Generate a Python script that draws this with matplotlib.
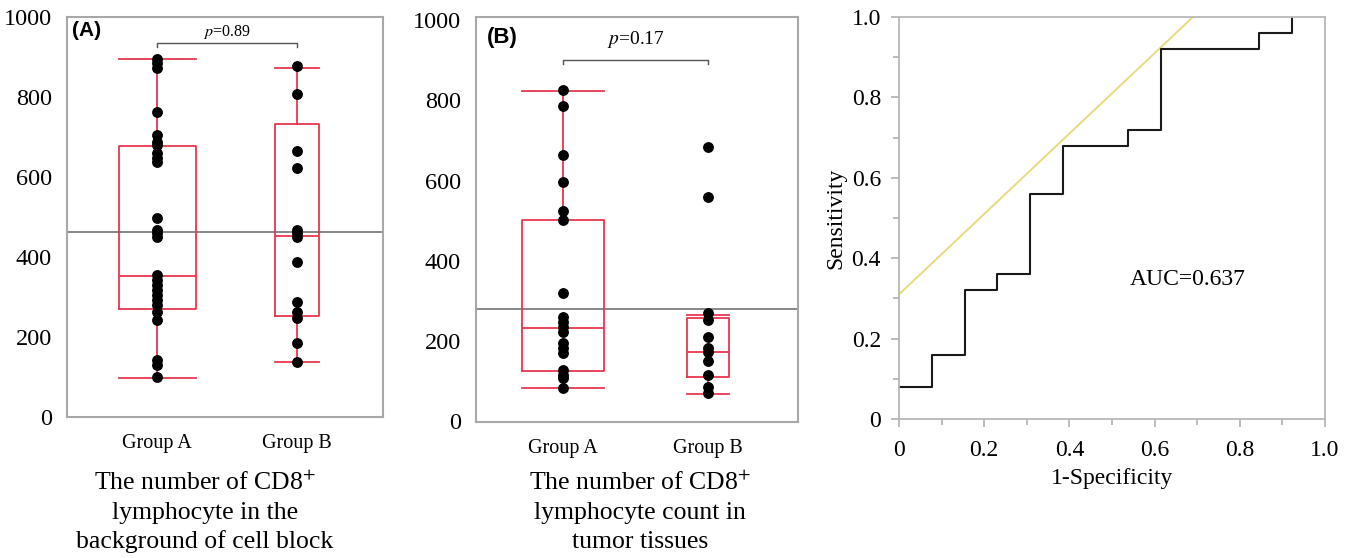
import numpy as np
import matplotlib
matplotlib.use("Agg")
import matplotlib.pyplot as plt

plt.rcParams['font.family'] = ['Liberation Serif', 'DejaVu Serif']
plt.rcParams['mathtext.fontset'] = 'stix'

# ---------- data ----------
groups = ["Group A", "Group B"]

# (A) CD8+ lymphocytes in cell block background
a_group_a = [895, 885, 873, 762, 705, 688, 680, 660, 648, 638, 497, 467, 460, 450,
             355, 342, 330, 318, 305, 293, 280, 263, 243, 143, 130, 100]
a_group_b = [878, 808, 665, 623, 467, 460, 450, 388, 288, 263, 248, 185, 138]
a_q1 = [270, 253]
a_med = [353, 453]
a_q3 = [678, 732]
a_lo = [98, 137]
a_hi = [895, 873]
a_cutoff = 462

# (B) CD8+ lymphocytes in tumor tissues
b_group_a = [825, 786, 663, 596, 524, 501, 319, 259, 247, 234, 222, 194, 182, 170,
             127, 115, 107, 82]
b_group_b = [683, 559, 269, 252, 209, 182, 172, 150, 115, 85, 70]
b_q1 = [125, 110]
b_med = [232, 172]
b_q3 = [501, 257]
b_lo = [82, 67]
b_hi = [823, 264]
b_cutoff = 279

# ROC
fpr = [0, 0.077, 0.077, 0.154, 0.154, 0.231, 0.231, 0.308, 0.308, 0.385, 0.385,
       0.538, 0.538, 0.615, 0.615, 0.846, 0.846, 0.923, 0.923]
tpr = [0.08, 0.08, 0.16, 0.16, 0.32, 0.32, 0.36, 0.36, 0.56, 0.56, 0.68, 0.68,
       0.72, 0.72, 0.92, 0.92, 0.96, 0.96, 1.0]
ref_x = [0, 0.69]
ref_y = [0.31, 1.0]

RED = '#e8364e'
W, H = 1354, 558
fig = plt.figure(figsize=(W / 100, H / 100), dpi=100)


def px_axes(x0, y0, x1, y1):
    return fig.add_axes([x0 / W, 1 - y1 / H, (x1 - x0) / W, (y1 - y0) / H])


def box_panel(ax, pts, q1, med, q3, lo, hi, widths, cutoff, xlim, ylim):
    stats = []
    for i in range(2):
        stats.append(dict(q1=q1[i], med=med[i], q3=q3[i], whislo=lo[i], whishi=hi[i],
                          fliers=[]))
    style = dict(color=RED, linewidth=1.3)
    ax.bxp(stats, positions=[1, 2], widths=widths, capwidths=widths,
           boxprops=style, medianprops=style, whiskerprops=style, capprops=style,
           showfliers=False, manage_ticks=False)
    ax.axhline(cutoff, color='#888888', lw=1.4, zorder=1)
    for i, p in enumerate(pts):
        ax.plot([i + 1] * len(p), p, 'o', color='black', ms=6.8, zorder=4)
    ax.set_xlim(*xlim)
    ax.set_ylim(*ylim)
    ax.set_xticks([1, 2])
    ax.set_xticklabels(groups, fontsize=14.5)
    ax.set_yticks([0, 200, 400, 600, 800, 1000])
    ax.tick_params(axis='y', length=0, labelsize=17.5, pad=11)
    ax.tick_params(axis='x', length=0, pad=12)
    for s in ax.spines.values():
        s.set_color('#a8a8a8')
        s.set_linewidth(1.5)


# ---------- panel A ----------
axA = px_axes(67, 17, 383, 417)
box_panel(axA, [a_group_a, a_group_b], a_q1, a_med, a_q3, a_lo, a_hi,
          [0.55, 0.32], a_cutoff, (0.357, 2.614), (0, 1000))
axA.text(0.016, 0.99, "(A)", transform=axA.transAxes, fontsize=15,
         fontweight='bold', family='Liberation Sans', va='top')
axA.plot([1, 1, 2, 2], [925, 935, 935, 925], color='#555555', lw=1)
axA.text(1.5, 940, "$p$=0.89", ha='center', va='bottom', fontsize=11.5)

# ---------- panel B ----------
axB = px_axes(476, 17, 798, 422)
box_panel(axB, [b_group_a, b_group_b], b_q1, b_med, b_q3, b_lo, b_hi,
          [0.56, 0.29], b_cutoff, (0.4, 2.62), (-2, 1008))
axB.text(0.035, 0.975, "(B)", transform=axB.transAxes, fontsize=16,
         fontweight='bold', family='Liberation Sans', va='top')
axB.plot([1, 1, 2, 2], [890, 900, 900, 890], color='#555555', lw=1)
axB.text(1.5, 925, "$p$=0.17", ha='center', va='bottom', fontsize=14)

# captions
cap = dict(ha='center', va='baseline', fontsize=18.5)
fig.text(205 / W, 1 - 490 / H, "The number of CD8$^{+}$", **cap)
fig.text(205 / W, 1 - 519 / H, "lymphocyte in the", **cap)
fig.text(205 / W, 1 - 548 / H, "background of cell block", **cap)
fig.text(640 / W, 1 - 490 / H, "The number of CD8$^{+}$", **cap)
fig.text(640 / W, 1 - 519 / H, "lymphocyte count in", **cap)
fig.text(640 / W, 1 - 548 / H, "tumor tissues", **cap)

# ---------- ROC ----------
axR = px_axes(899, 17, 1325, 419)
axR.plot(ref_x, ref_y, color='#e6dc7e', lw=1.4)
axR.plot(fpr, tpr, color='#1a1a1a', lw=1.5)
axR.set_xlim(0, 1)
axR.set_ylim(0, 1)
axR.set_xticks([0, 0.2, 0.4, 0.6, 0.8, 1.0])
axR.set_xticklabels(["0", "0.2", "0.4", "0.6", "0.8", "1.0"])
axR.set_yticks([0, 0.2, 0.4, 0.6, 0.8, 1.0])
axR.set_yticklabels(["0", "0.2", "0.4", "0.6", "0.8", "1.0"])
axR.set_xticks(np.arange(0.1, 1.0, 0.2), minor=True)
axR.set_yticks(np.arange(0.1, 1.0, 0.2), minor=True)
axR.tick_params(which='major', length=6, width=1.2, color='#b0b0b0', labelsize=17)
axR.tick_params(which='minor', length=4, width=1.2, color='#b0b0b0')
axR.tick_params(axis='y', pad=7)
axR.tick_params(axis='x', pad=9)
for s in axR.spines.values():
    s.set_color('#b8b8b8')
    s.set_linewidth(1.3)
axR.set_xlabel("1-Specificity", fontsize=17, labelpad=5)
axR.set_ylabel("Sensitivity", fontsize=17, labelpad=4)
axR.text(0.542, 0.347, "AUC=0.637", fontsize=17, va='center')

fig.savefig("out.png", dpi=100)
